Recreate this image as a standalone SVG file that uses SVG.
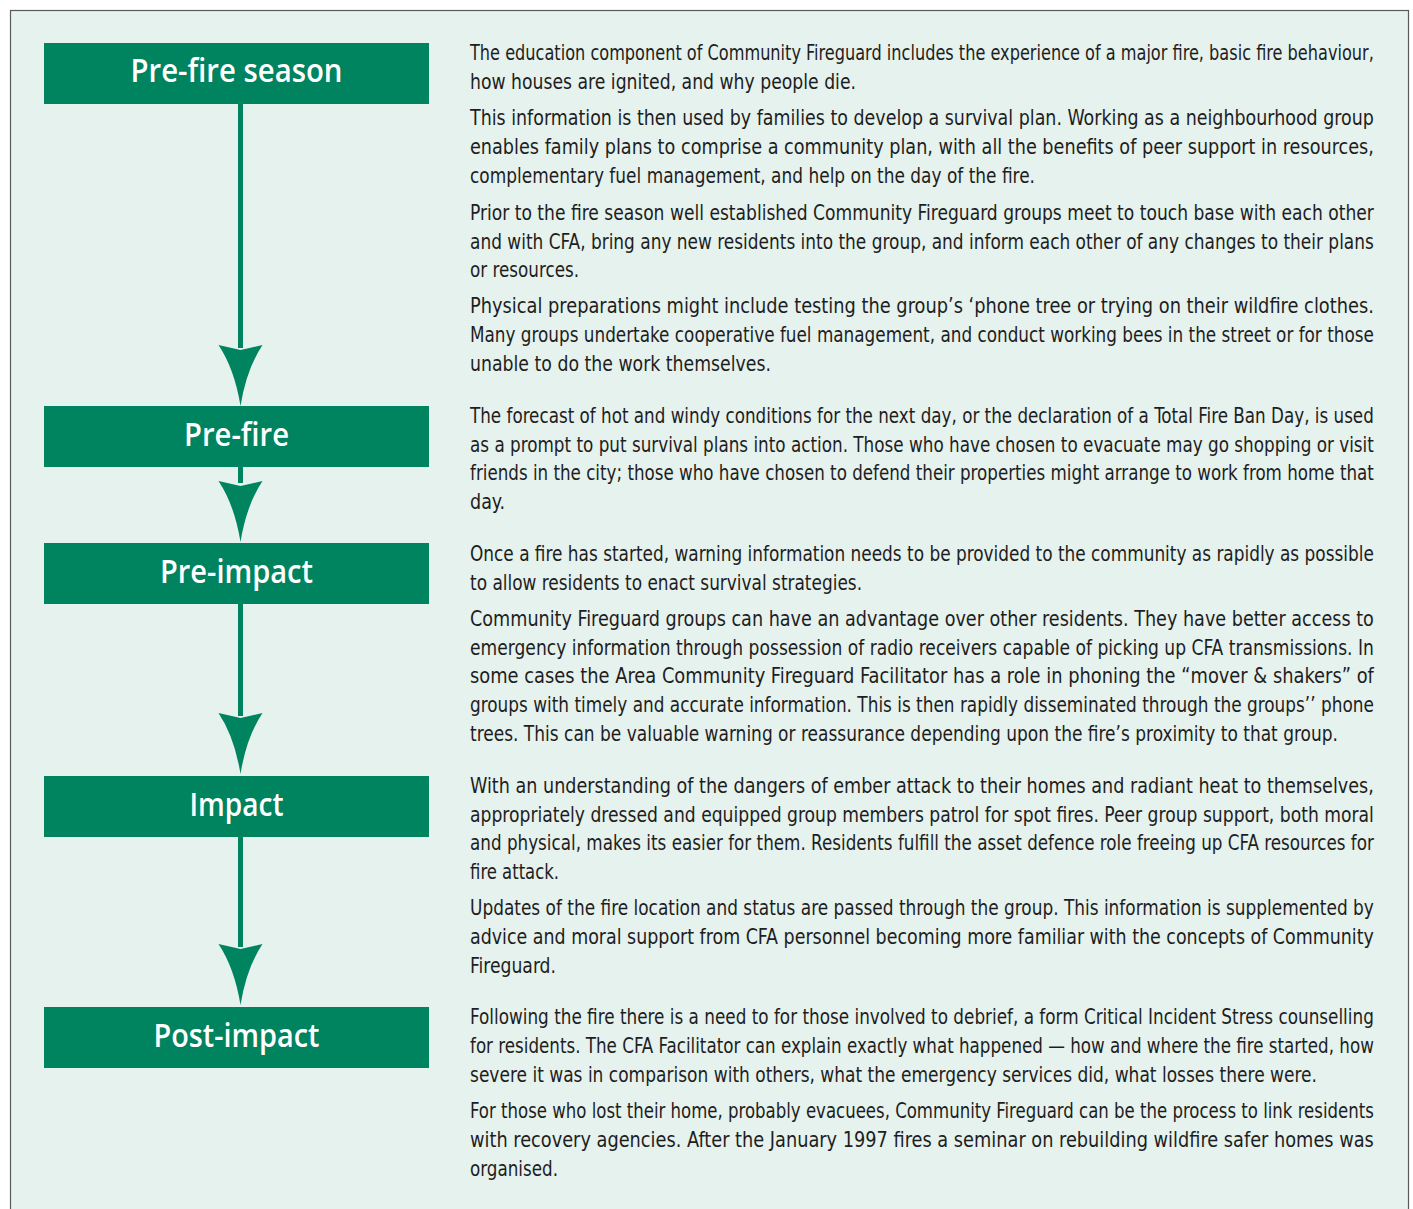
<svg xmlns="http://www.w3.org/2000/svg" width="1413" height="1209" viewBox="0 0 1413 1209">
<style>
.frame{fill:#E6F2EE;stroke:#5a5a5a;stroke-width:1.2}
.box{fill:#00835F}
.lbl{font-family:"Open Sans","DejaVu Sans Condensed","Liberation Sans",sans-serif;font-weight:600;font-size:33px;fill:#ffffff;text-anchor:middle}
.t{font-family:"DejaVu Sans Condensed","Liberation Sans",sans-serif;font-size:21.5px;fill:#1e1e1e}
.arr{fill:#00835F}
</style>
<defs>
<path id="head" d="M-22,0 L0,5 L22,0 Q6,24 0,61 Q-6,24 -22,0 Z"/>
</defs>
<rect class="frame" x="10.5" y="10.5" width="1398" height="1215"/>

<g id="connectors">
  <rect class="arr" x="238" y="104" width="5" height="244"/>
  <use href="#head" class="arr" x="240.5" y="345"/>
  <rect class="arr" x="238" y="467" width="5" height="16"/>
  <use href="#head" class="arr" x="240.5" y="481"/>
  <rect class="arr" x="238" y="604" width="5" height="112"/>
  <use href="#head" class="arr" x="240.5" y="713"/>
  <rect class="arr" x="238" y="837" width="5" height="110"/>
  <use href="#head" class="arr" x="240.5" y="944"/>
</g>

<g id="node-pre-fire-season">
  <rect class="box" x="44" y="43" width="385" height="61"/>
  <text class="lbl" x="236.5" y="82" textLength="212" lengthAdjust="spacingAndGlyphs">Pre-fire season</text>
</g>
<g id="node-pre-fire">
  <rect class="box" x="44" y="406" width="385" height="61"/>
  <text class="lbl" x="236.5" y="446" textLength="105" lengthAdjust="spacingAndGlyphs">Pre-fire</text>
</g>
<g id="node-pre-impact">
  <rect class="box" x="44" y="543" width="385" height="61"/>
  <text class="lbl" x="236.5" y="583" textLength="153" lengthAdjust="spacingAndGlyphs">Pre-impact</text>
</g>
<g id="node-impact">
  <rect class="box" x="44" y="776" width="385" height="61"/>
  <text class="lbl" x="236.5" y="816" textLength="94" lengthAdjust="spacingAndGlyphs">Impact</text>
</g>
<g id="node-post-impact">
  <rect class="box" x="44" y="1007" width="385" height="61"/>
  <text class="lbl" x="236.5" y="1047" textLength="166" lengthAdjust="spacingAndGlyphs">Post-impact</text>
</g>

<g id="text-pre-fire-season" class="t" transform="translate(470 0) scale(0.84 1)">
  <text x="0" y="60.5" textLength="1076" lengthAdjust="spacingAndGlyphs">The education component of Community Fireguard includes the experience of a major fire, basic fire behaviour,</text>
  <text x="0" y="89" textLength="459.5" lengthAdjust="spacingAndGlyphs">how houses are ignited, and why people die.</text>
  <text x="0" y="125.5" textLength="1076" lengthAdjust="spacingAndGlyphs">This information is then used by families to develop a survival plan. Working as a neighbourhood group</text>
  <text x="0" y="154" textLength="1076" lengthAdjust="spacingAndGlyphs">enables family plans to comprise a community plan, with all the benefits of peer support in resources,</text>
  <text x="0" y="183" textLength="672.6" lengthAdjust="spacingAndGlyphs">complementary fuel management, and help on the day of the fire.</text>
  <text x="0" y="220.5" textLength="1076" lengthAdjust="spacingAndGlyphs">Prior to the fire season well established Community Fireguard groups meet to touch base with each other</text>
  <text x="0" y="249" textLength="1076" lengthAdjust="spacingAndGlyphs">and with CFA, bring any new residents into the group, and inform each other of any changes to their plans</text>
  <text x="0" y="277.5" textLength="129.8" lengthAdjust="spacingAndGlyphs">or resources.</text>
  <text x="0" y="313.5" textLength="1076" lengthAdjust="spacingAndGlyphs">Physical preparations might include testing the group’s ‘phone tree or trying on their wildfire clothes.</text>
  <text x="0" y="342" textLength="1076" lengthAdjust="spacingAndGlyphs">Many groups undertake cooperative fuel management, and conduct working bees in the street or for those</text>
  <text x="0" y="371" textLength="358.3" lengthAdjust="spacingAndGlyphs">unable to do the work  themselves.</text>
</g>

<g id="text-pre-fire" class="t" transform="translate(470 0) scale(0.84 1)">
  <text x="0" y="423.5" textLength="1076" lengthAdjust="spacingAndGlyphs">The forecast of hot and windy conditions for the next day, or the declaration of a Total Fire Ban Day, is used</text>
  <text x="0" y="452" textLength="1076" lengthAdjust="spacingAndGlyphs">as a prompt to put survival plans into action. Those who have chosen to evacuate may go shopping or visit</text>
  <text x="0" y="480.5" textLength="1076" lengthAdjust="spacingAndGlyphs">friends in the city; those who have chosen to defend their properties might arrange to work from home that</text>
  <text x="0" y="509" textLength="41.7" lengthAdjust="spacingAndGlyphs">day.</text>
</g>

<g id="text-pre-impact" class="t" transform="translate(470 0) scale(0.84 1)">
  <text x="0" y="561" textLength="1076" lengthAdjust="spacingAndGlyphs">Once a fire has started, warning information needs to be provided to the community as rapidly as possible</text>
  <text x="0" y="590" textLength="466.7" lengthAdjust="spacingAndGlyphs">to allow residents to enact survival strategies.</text>
  <text x="0" y="626" textLength="1076" lengthAdjust="spacingAndGlyphs">Community Fireguard groups can have an advantage over other residents. They have better access to</text>
  <text x="0" y="655" textLength="1076" lengthAdjust="spacingAndGlyphs">emergency information through possession of radio receivers capable of picking up CFA transmissions. In</text>
  <text x="0" y="683.5" textLength="1076" lengthAdjust="spacingAndGlyphs">some cases the Area Community Fireguard Facilitator has a role in phoning the “mover &amp; shakers” of</text>
  <text x="0" y="712" textLength="1076" lengthAdjust="spacingAndGlyphs">groups with timely and accurate information.  This is then rapidly disseminated through the groups’’ phone</text>
  <text x="0" y="741" textLength="1033.3" lengthAdjust="spacingAndGlyphs">trees. This can be valuable warning or reassurance depending upon the fire’s proximity to that group.</text>
</g>

<g id="text-impact" class="t" transform="translate(470 0) scale(0.84 1)">
  <text x="0" y="793.5" textLength="1076" lengthAdjust="spacingAndGlyphs">With an understanding of the dangers of ember attack to their homes and radiant heat to themselves,</text>
  <text x="0" y="822" textLength="1076" lengthAdjust="spacingAndGlyphs">appropriately dressed and equipped group members patrol for spot fires. Peer group support, both moral</text>
  <text x="0" y="850.5" textLength="1076" lengthAdjust="spacingAndGlyphs">and physical, makes its easier for them. Residents fulfill the asset defence role freeing up CFA resources for</text>
  <text x="0" y="879" textLength="106" lengthAdjust="spacingAndGlyphs">fire attack.</text>
  <text x="0" y="915.5" textLength="1076" lengthAdjust="spacingAndGlyphs">Updates of the fire location and status are passed through the group.  This information is supplemented by</text>
  <text x="0" y="944" textLength="1076" lengthAdjust="spacingAndGlyphs">advice and moral support from CFA personnel becoming more familiar with the concepts of Community</text>
  <text x="0" y="973" textLength="102.4" lengthAdjust="spacingAndGlyphs">Fireguard.</text>
</g>

<g id="text-post-impact" class="t" transform="translate(470 0) scale(0.84 1)">
  <text x="0" y="1024.5" textLength="1076" lengthAdjust="spacingAndGlyphs">Following the fire there is a need to for those involved to debrief, a form Critical Incident Stress counselling</text>
  <text x="0" y="1053" textLength="1076" lengthAdjust="spacingAndGlyphs">for residents. The CFA Facilitator can explain exactly what happened — how and where the fire started, how</text>
  <text x="0" y="1082" textLength="1008.3" lengthAdjust="spacingAndGlyphs">severe it was in comparison with others, what the emergency services did, what losses there were.</text>
  <text x="0" y="1118" textLength="1076" lengthAdjust="spacingAndGlyphs">For those who lost their home, probably evacuees, Community Fireguard can be the process to link residents</text>
  <text x="0" y="1147" textLength="1076" lengthAdjust="spacingAndGlyphs">with recovery agencies. After the January 1997 fires a seminar on rebuilding wildfire safer homes was</text>
  <text x="0" y="1176" textLength="104.8" lengthAdjust="spacingAndGlyphs">organised.</text>
</g>
</svg>
